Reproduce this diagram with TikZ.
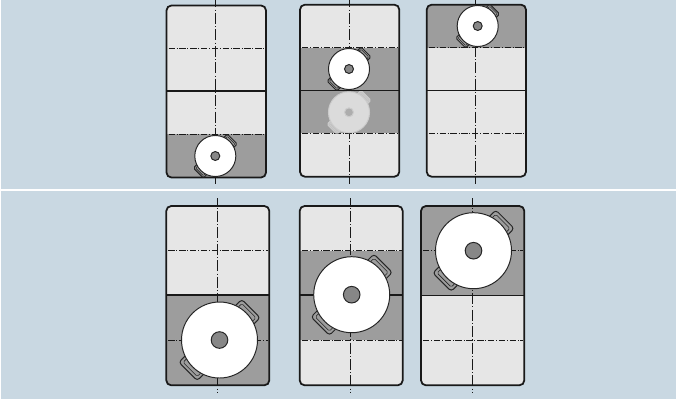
\documentclass[tikz,border=0pt]{standalone}
\usepackage{xcolor}
\usepackage{tikz}

\definecolor{bgblue}{RGB}{201,216,226}
\definecolor{panelgray}{RGB}{230,230,230}
\definecolor{bandgray}{RGB}{157,157,157}
\definecolor{hubgray}{RGB}{135,135,135}
\colorlet{potfill}{white}
\colorlet{potedge}{black!85}
\colorlet{pothub}{hubgray}
\colorlet{pothandle}{bandgray}

\tikzset{
    panel/.style={draw=black!90, line width=1.25pt, rounded corners=3.5pt},
    axisline/.style={black!90, line width=0.7pt, dash pattern=on 7.8pt off 1.6pt on 0.7pt off 1.6pt, dash phase=2.5pt},
    dashline/.style={black!90, line width=0.7pt, dash pattern=on 4.6pt off 1.2pt on 0.7pt off 1.2pt},
    midline/.style={black!90, line width=1.1pt},
    potline/.style={draw=potedge, line width=0.7pt},
}

% pot seen from above: x, y, scale
\newcommand{\drawpot}[3]{
    \begin{scope}[shift={(#1,#2)}, scale=#3]
        \foreach \a in {45,225} {
            \begin{scope}[rotate=\a]
                \draw[potline, fill=pothandle, rounded corners=2.2pt*#3] (33,-13) rectangle (44.5,13);
                \draw[potedge, line width=0.4pt, rounded corners=1pt*#3] (36,-10) rectangle (41.5,10);
            \end{scope}
        }
        \draw[potline, fill=potfill] (0,0) circle (38);
        \draw[potline, fill=pothub] (0,0) circle (8.3);
    \end{scope}
}

% left/right/top/bottom, mid, dash lines, axis, gray band, pot
\newcommand{\drawtank}[1]{
    \foreach \xa/\xb/\ya/\yb/\ym/\yc/\yd/\xc/\ys/\ye/\bta/\btb/\xp/\yp/\s in {#1} {
        \fill[panelgray, rounded corners=3.5pt] (\xa,\ya) rectangle (\xb,\yb);
        \begin{scope}
            \clip[rounded corners=3.5pt] (\xa,\ya) rectangle (\xb,\yb);
            \fill[bandgray] (\xa,\bta) rectangle (\xb,\btb);
        \end{scope}
        \draw[dashline] (\xa+2,\yc) -- (\xb-1,\yc);
        \draw[dashline] (\xa+2,\yd) -- (\xb-1,\yd);
        \draw[axisline] (\xc,\ys) -- (\xc,\ye);
        \draw[midline] (\xa,\ym) -- (\xb,\ym);
        \draw[panel] (\xa,\ya) rectangle (\xb,\yb);
        \drawpot{\xp}{\yp}{\s}
    }
}

\begin{document}
\begin{tikzpicture}[x=0.025cm, y=-0.025cm]
    \useasboundingbox (0,0) rectangle (676,401);
    \fill[white] (0,0) rectangle (676,401);
    \fill[bgblue] (1,0) rectangle (676,188.7);
    \fill[bgblue] (1,191) rectangle (676,398.5);

    % ghost sits in the second upper tank
    \drawtank{
        166.5/266/5.5/177.5/91/48.3/134.3/215.7/0/184/134.3/177.5/215.3/156/0.54,
        300/399.3/4.7/176.7/90.3/47.7/133.3/349/0/184/47.7/133.3/349/69/0.54,
        426.7/526/4.7/176.7/90.3/47.7/133.3/475.7/0/184/4.7/47.7/477.7/26/0.54
    }
    \begin{scope}
        \colorlet{potfill}{black!14}
        \colorlet{potedge}{black!20}
        \colorlet{pothub}{black!32}
        \colorlet{pothandle}{black!24}
        \drawpot{349}{112.3}{0.54}
    \end{scope}

    % lower row
    \drawtank{
        166.3/269.3/206/385.3/295/250.7/340/217.7/198/393/295/385.3/219.5/340/1,
        299.7/402.7/206/385.3/295/250.7/340.3/350.7/198/393/250.7/340.3/351.7/294.7/1,
        421/524.3/206/385.3/295.3/250.7/340.3/472/198/393/206/295.3/473.5/250.7/1
    }
\end{tikzpicture}
\end{document}
